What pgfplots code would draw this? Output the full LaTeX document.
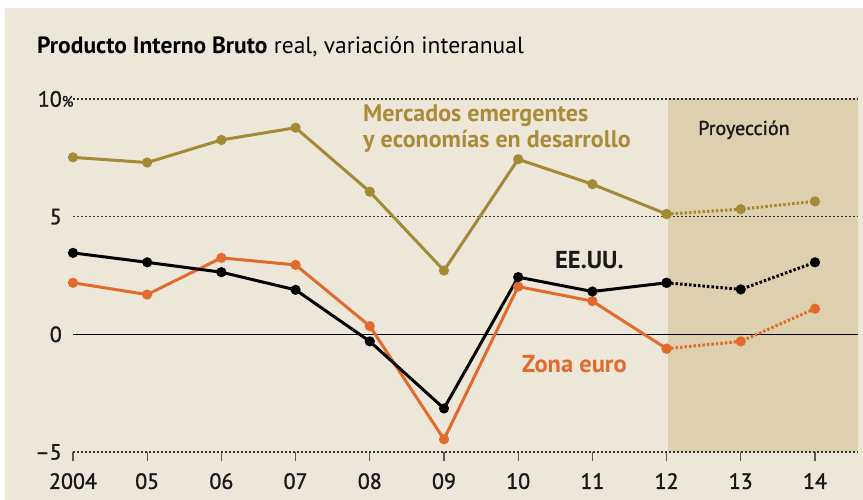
\documentclass[border=0pt]{standalone}
\usepackage{pgfplots}
\pgfplotsset{compat=1.18}
\usepackage{fontspec}
\setmainfont{PT Sans}
\newfontfamily\medfont[FakeBold=1.3]{PT Sans}
\definecolor{bg}{RGB}{237,231,218}
\definecolor{proj}{RGB}{221,208,174}
\definecolor{gold}{RGB}{163,138,52}
\definecolor{goldtxt}{RGB}{168,140,55}
\definecolor{orng}{RGB}{226,106,44}
\definecolor{gridc}{RGB}{50,50,50}
\begin{document}
\begin{tikzpicture}
\fill[white] (0,0) rectangle (863bp,500bp);
\fill[bg] (5bp,0) rectangle (863bp,492bp);
\begin{axis}[at={(73bp,48bp)}, anchor=south west, scale only axis,
  width=785bp, height=353bp,
  xmin=0, xmax=10.58, ymin=-5, ymax=10,
  axis line style={draw=none},
  xtick={0,...,10}, xticklabels={2004,05,06,07,08,09,10,11,12,13,14},
  ytick={-5,0,5,10}, yticklabels={\textendash5,0,5,10\rlap{\fontsize{15bp}{15bp}\selectfont\%}},
  x tick style={draw=gray!70!black, line width=1.2bp},
  y tick style={draw=none},
  major tick length=9bp, tick align=outside, xtick pos=bottom, ytick pos=left,
  ticklabel style={font=\medfont\fontsize{22bp}{24bp}\selectfont, text=black!90},
  /pgf/number format/assume math mode=true,
  xticklabel style={anchor=north, inner sep=0pt, yshift=-12bp},
  yticklabel style={anchor=east, inner sep=0pt, xshift=-2bp},
  clip=false]
\fill[proj] (axis cs:8.02,-5) rectangle (axis cs:10.58,10.05);
\draw[gridc, line width=1.6bp, dash pattern=on 1.5bp off 2.5bp] (axis cs:0,10) -- (axis cs:10.58,10);
\draw[gridc, line width=1.6bp, dash pattern=on 1.5bp off 2.5bp] (axis cs:0,5) -- (axis cs:10.58,5);
\draw[gridc, line width=1.6bp, dash pattern=on 1.5bp off 2.5bp] (axis cs:0,-5) -- (axis cs:10.58,-5);
\draw[black, line width=1.3bp] (axis cs:0,0) -- (axis cs:10.58,0);
% Mercados emergentes
\addplot[gold, line width=3bp, mark=*, mark size=3.5bp, mark options={solid}] coordinates {
(0,7.52)(1,7.30)(2,8.26)(3,8.78)(4,6.06)(5,2.71)(6,7.44)(7,6.38)(8,5.11)};
\addplot[gold, line width=3bp, dash pattern=on 2.5bp off 2bp, mark=*, mark size=3.5bp, mark options={solid}] coordinates {
(8,5.11)(9,5.32)(10,5.65)};
% Zona euro
\addplot[orng, line width=3bp, mark=*, mark size=3.5bp, mark options={solid}] coordinates {
(0,2.19)(1,1.69)(2,3.25)(3,2.95)(4,0.35)(5,-4.46)(6,2.03)(7,1.41)(8,-0.61)};
\addplot[orng, line width=3bp, dash pattern=on 2.5bp off 2bp, mark=*, mark size=3.5bp, mark options={solid}] coordinates {
(8,-0.61)(9,-0.30)(10,1.09)};
% EE.UU.
\addplot[black, line width=3bp, mark=*, mark size=3.5bp, mark options={solid}] coordinates {
(0,3.46)(1,3.06)(2,2.64)(3,1.89)(4,-0.30)(5,-3.15)(6,2.43)(7,1.82)(8,2.19)};
\addplot[black, line width=3bp, dash pattern=on 2.5bp off 2bp, mark=*, mark size=3.5bp, mark options={solid}] coordinates {
(8,2.19)(9,1.91)(10,3.06)};
\end{axis}
\node[anchor=base west, inner sep=0pt, font=\fontsize{23.5bp}{25bp}\selectfont] at (37bp,446bp)
  {\textbf{Producto Interno Bruto} real, variación interanual};
\node[anchor=base west, inner sep=0pt, text=goldtxt, font=\bfseries\fontsize{24bp}{26bp}\selectfont] at (363bp,378bp) {Mercados emergentes};
\node[anchor=base west, inner sep=0pt, text=goldtxt, font=\bfseries\fontsize{24bp}{26bp}\selectfont] at (363bp,352bp) {y economías en desarrollo};
\node[anchor=base west, inner sep=0pt, text=black!90, font=\bfseries\fontsize{24.5bp}{26bp}\selectfont] at (555bp,231bp) {EE.UU.};
\node[anchor=base west, inner sep=0pt, text=orng, font=\bfseries\fontsize{24.5bp}{26bp}\selectfont] at (522bp,127bp) {Zona euro};
\node[anchor=base west, inner sep=0pt, text=black!90, font=\medfont\fontsize{20bp}{24bp}\selectfont] at (698bp,365bp) {Proyección};
\end{tikzpicture}
\end{document}
